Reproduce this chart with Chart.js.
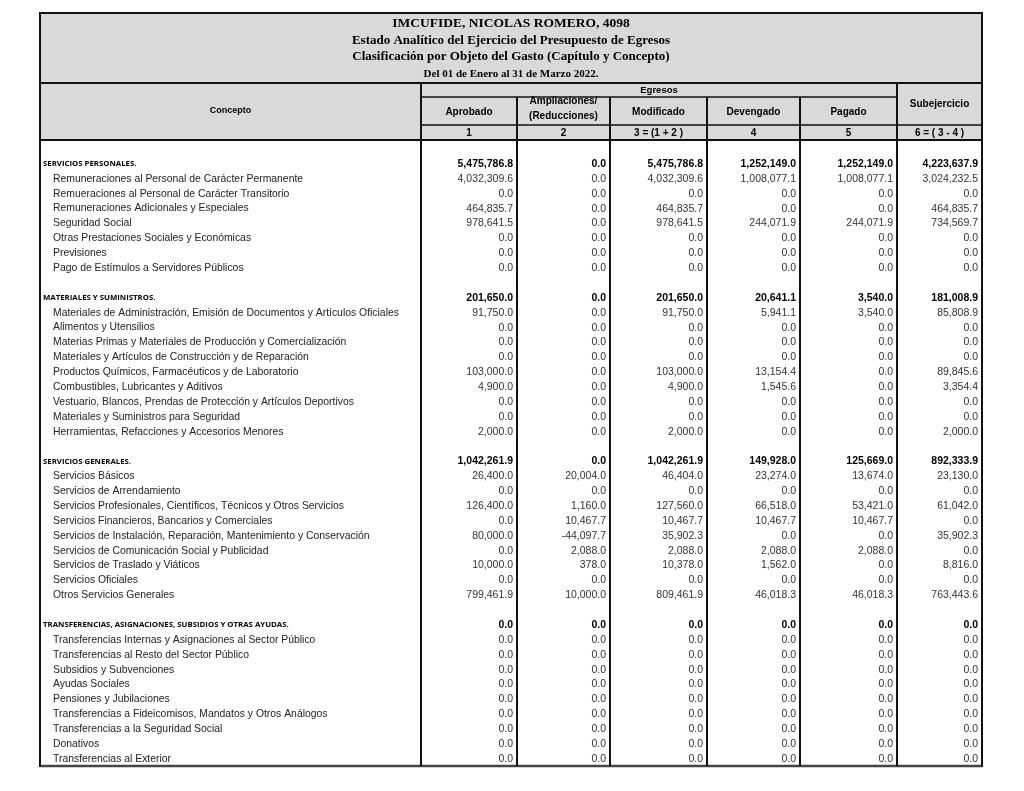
<!DOCTYPE html>
<html lang="es">
<head>
<meta charset="utf-8">
<title>Estado Analítico del Ejercicio del Presupuesto de Egresos</title>
<script src="https://cdn.jsdelivr.net/npm/chart.js@4.4.1/dist/chart.umd.min.js"></script>
<style>
  html, body { margin: 0; background: #fff; }
  #wrap { position: relative; width: 1024px; height: 791px; }
</style>
</head>
<body>
<div id="wrap"><canvas id="tabla"></canvas></div>
<script>
const titulo = 'IMCUFIDE, NICOLAS ROMERO, 4098';
const subtitulos = [
  'Estado Analítico del Ejercicio del Presupuesto de Egresos',
  'Clasificación por Objeto del Gasto (Capítulo y Concepto)'
];
const periodo = 'Del 01 de Enero al 31 de Marzo 2022.';
const columnas = ['Aprobado', ['Ampliaciones/', '(Reducciones)'], 'Modificado', 'Devengado', 'Pagado'];
const numeracion = ['1', '2', '3 = (1 + 2 )', '4', '5', '6 = ( 3 - 4 )'];

const capitulos = [
  'SERVICIOS PERSONALES.',
  'MATERIALES Y SUMINISTROS.',
  'SERVICIOS GENERALES.',
  'TRANSFERENCIAS, ASIGNACIONES, SUBSIDIOS Y OTRAS AYUDAS.'
];
const conceptos = [
  ['Remuneraciones al Personal de Carácter Permanente',
   'Remueraciones al Personal de Carácter Transitorio',
   'Remuneraciones Adicionales y Especiales',
   'Seguridad Social',
   'Otras Prestaciones Sociales y Económicas',
   'Previsiones',
   'Pago de Estímulos a Servidores Públicos'],
  ['Materiales de Administración, Emisión de Documentos y Artículos Oficiales',
   'Alimentos y Utensilios',
   'Materias Primas y Materiales de Producción y Comercialización',
   'Materiales y Artículos de Construcción y de Reparación',
   'Productos Químicos, Farmacéuticos y de Laboratorio',
   'Combustibles, Lubricantes y Aditivos',
   'Vestuario, Blancos, Prendas de Protección y Artículos Deportivos',
   'Materiales y Suministros para Seguridad',
   'Herramientas, Refacciones y Accesorios Menores'],
  ['Servicios Básicos',
   'Servicios de Arrendamiento',
   'Servicios Profesionales, Científicos, Técnicos y Otros Servicios',
   'Servicios Financieros, Bancarios y Comerciales',
   'Servicios de Instalación, Reparación, Mantenimiento y Conservación',
   'Servicios de Comunicación Social y Publicidad',
   'Servicios de Traslado y Viáticos',
   'Servicios Oficiales',
   'Otros Servicios Generales'],
  ['Transferencias Internas y Asignaciones al Sector Público',
   'Transferencias al Resto del Sector Público',
   'Subsidios y Subvenciones',
   'Ayudas Sociales',
   'Pensiones y Jubilaciones',
   'Transferencias a Fideicomisos, Mandatos y Otros Análogos',
   'Transferencias a la Seguridad Social',
   'Donativos',
   'Transferencias al Exterior']
];

// one value per capitulo total and concepto, in table order
const aprobado = [
  5475786.8, 4032309.6, 0, 464835.7, 978641.5, 0, 0, 0,
  201650.0, 91750.0, 0, 0, 0, 103000.0, 4900.0, 0, 0, 2000.0,
  1042261.9, 26400.0, 0, 126400.0, 0, 80000.0, 0, 10000.0, 0, 799461.9,
  0, 0, 0, 0, 0, 0, 0, 0, 0, 0
];
const ampliaciones = [
  0, 0, 0, 0, 0, 0, 0, 0,
  0, 0, 0, 0, 0, 0, 0, 0, 0, 0,
  0, 20004.0, 0, 1160.0, 10467.7, -44097.7, 2088.0, 378.0, 0, 10000.0,
  0, 0, 0, 0, 0, 0, 0, 0, 0, 0
];
const modificado = [
  5475786.8, 4032309.6, 0, 464835.7, 978641.5, 0, 0, 0,
  201650.0, 91750.0, 0, 0, 0, 103000.0, 4900.0, 0, 0, 2000.0,
  1042261.9, 46404.0, 0, 127560.0, 10467.7, 35902.3, 2088.0, 10378.0, 0, 809461.9,
  0, 0, 0, 0, 0, 0, 0, 0, 0, 0
];
const devengado = [
  1252149.0, 1008077.1, 0, 0, 244071.9, 0, 0, 0,
  20641.1, 5941.1, 0, 0, 0, 13154.4, 1545.6, 0, 0, 0,
  149928.0, 23274.0, 0, 66518.0, 10467.7, 0, 2088.0, 1562.0, 0, 46018.3,
  0, 0, 0, 0, 0, 0, 0, 0, 0, 0
];
const pagado = [
  1252149.0, 1008077.1, 0, 0, 244071.9, 0, 0, 0,
  3540.0, 3540.0, 0, 0, 0, 0, 0, 0, 0, 0,
  125669.0, 13674.0, 0, 53421.0, 10467.7, 0, 2088.0, 0, 0, 46018.3,
  0, 0, 0, 0, 0, 0, 0, 0, 0, 0
];
const subejercicio = [
  4223637.9, 3024232.5, 0, 464835.7, 734569.7, 0, 0, 0,
  181008.9, 85808.9, 0, 0, 0, 89845.6, 3354.4, 0, 0, 2000.0,
  892333.9, 23130.0, 0, 61042.0, 0, 35902.3, 0, 8816.0, 0, 763443.6,
  0, 0, 0, 0, 0, 0, 0, 0, 0, 0
];

// layout
const bordes = [0, 381, 477, 570, 667, 760, 857, 942]; // column edges in x units
const GRIS = '#d9d9d9';
const Y_TITULO = 13, Y_EGRESOS = 83, Y_EGR_FIN = 97, Y_COLS_FIN = 125;
const SANS = '"Liberation Sans", Arial, sans-serif';
const SERIF = '"Liberation Serif", "Times New Roman", serif';

const filas = [];
capitulos.forEach((cap, c) => {
  if (c > 0) filas.push(null);
  filas.push({ label: cap, total: true });
  conceptos[c].forEach(n => filas.push({ label: n, total: false }));
});
let k = 0;
filas.forEach((f, i) => { if (f) { f.i = i; f.k = k++; } });

const series = [aprobado, ampliaciones, modificado, devengado, pagado, subejercicio];
const fmt = v => v.toLocaleString('en-US', { minimumFractionDigits: 1, maximumFractionDigits: 1 });

function texto(ctx, s, x, y, font, align, color) {
  ctx.font = font;
  ctx.textAlign = align;
  ctx.textBaseline = 'middle';
  ctx.fillStyle = color;
  ctx.fillText(s, x, y);
}
function linea(ctx, x1, y1, x2, y2, w, color) {
  ctx.beginPath();
  ctx.lineWidth = w;
  ctx.strokeStyle = color || '#111';
  ctx.moveTo(x1, y1);
  ctx.lineTo(x2, y2);
  ctx.stroke();
}

const tablaPlugin = {
  id: 'tabla',
  beforeDraw(chart) {
    const { ctx, chartArea } = chart;
    const px = v => chart.scales.x.getPixelForValue(v);
    ctx.save();
    ctx.fillStyle = '#fff';
    ctx.fillRect(0, 0, chart.width, chart.height);
    ctx.fillStyle = GRIS;
    ctx.fillRect(px(0), Y_TITULO, px(942) - px(0), chartArea.top - Y_TITULO);
    ctx.restore();
  },
  afterDraw(chart) {
    const { ctx, chartArea } = chart;
    const xs = chart.scales.x, ys = chart.scales.y;
    const px = v => xs.getPixelForValue(v);
    const mid = (a, b) => (px(bordes[a]) + px(bordes[b])) / 2;
    ctx.save();

    // title block
    const cx = px(471);
    texto(ctx, titulo, cx, 24, 'bold 13.5px ' + SERIF, 'center', '#000');
    texto(ctx, subtitulos[0], cx, 41, 'bold 13px ' + SERIF, 'center', '#000');
    texto(ctx, subtitulos[1], cx, 57, 'bold 13px ' + SERIF, 'center', '#000');
    texto(ctx, periodo, cx, 74, 'bold 11px ' + SERIF, 'center', '#000');

    // column headers
    texto(ctx, 'Concepto', mid(0, 1), 111, 'bold 9px ' + SANS, 'center', '#000');
    texto(ctx, 'Egresos', mid(1, 6), 90, 'bold 9.5px ' + SANS, 'center', '#000');
    columnas.forEach((c, j) => {
      const xm = mid(j + 1, j + 2);
      if (Array.isArray(c)) {
        texto(ctx, c[0], xm, 101, 'bold 10px ' + SANS, 'center', '#000');
        texto(ctx, c[1], xm, 116, 'bold 10px ' + SANS, 'center', '#000');
      } else {
        texto(ctx, c, xm, 112, 'bold 10px ' + SANS, 'center', '#000');
      }
    });
    texto(ctx, 'Subejercicio', mid(6, 7), 104, 'bold 10px ' + SANS, 'center', '#000');
    numeracion.forEach((n, j) => {
      texto(ctx, n, mid(j + 1, j + 2), 133, 'bold 10px ' + SANS, 'center', '#000');
    });

    // row labels
    filas.forEach(f => {
      if (!f) return;
      const yy = ys.getPixelForValue(f.i);
      if (f.total) texto(ctx, f.label, px(3), yy, 'bold 7.8px "Open Sans", ' + SANS, 'left', '#000');
      else texto(ctx, f.label, px(13), yy, '10.4px ' + SANS, 'left', '#222');
    });

    // values
    chart.data.datasets.forEach((ds, j) => {
      chart.getDatasetMeta(j).data.forEach((pt, i) => {
        const d = ds.data[i];
        texto(ctx, fmt(d.v), pt.x, pt.y, (d.total ? 'bold ' : '') + '10.5px ' + SANS, 'right', d.total ? '#000' : '#333');
      });
    });

    // grid
    const L = px(0), R = px(942), B = chartArea.bottom, T = chartArea.top;
    linea(ctx, L, Y_TITULO, R, Y_TITULO, 2);
    linea(ctx, L, Y_EGRESOS, R, Y_EGRESOS, 2);
    linea(ctx, px(bordes[1]), Y_EGR_FIN, px(bordes[6]), Y_EGR_FIN, 1.5);
    linea(ctx, px(bordes[1]), Y_COLS_FIN, R, Y_COLS_FIN, 1.5);
    linea(ctx, L, T, R, T, 2);
    linea(ctx, L, B, R, B, 2.5, '#444');
    linea(ctx, L, Y_TITULO - 1, L, B + 1, 2);
    linea(ctx, R, Y_TITULO - 1, R, B + 1, 2);
    [1, 6].forEach(b => linea(ctx, px(bordes[b]), Y_EGRESOS, px(bordes[b]), B, 2));
    [2, 3, 4, 5].forEach(b => linea(ctx, px(bordes[b]), Y_EGR_FIN, px(bordes[b]), B, 2));
    ctx.restore();
  }
};

new Chart(document.getElementById('tabla'), {
  type: 'scatter',
  data: {
    datasets: series.map((vals, j) => ({
      label: numeracion[j],
      data: filas.filter(Boolean).map(f => ({ x: bordes[j + 2] - 4, y: f.i, v: vals[f.k], total: f.total })),
      pointRadius: 0,
      pointHoverRadius: 0
    }))
  },
  options: {
    responsive: true,
    maintainAspectRatio: false,
    animation: false,
    events: [],
    layout: { padding: { top: 140, bottom: 25, left: 40, right: 42 } },
    plugins: { legend: { display: false }, tooltip: { enabled: false } },
    scales: {
      x: { type: 'linear', display: false, min: 0, max: 942 },
      y: { type: 'linear', display: false, reverse: true, min: -1.613, max: 40.473 }
    }
  },
  plugins: [tablaPlugin]
});
</script>
</body>
</html>
